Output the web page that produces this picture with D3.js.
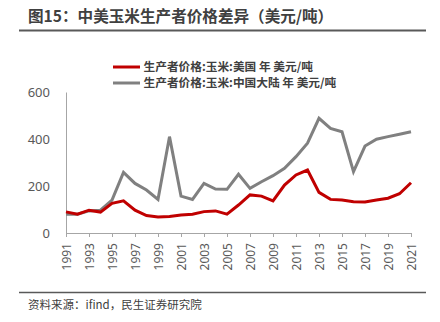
<!DOCTYPE html>
<html><head><meta charset="utf-8">
<script src="https://cdn.jsdelivr.net/npm/d3@7"></script>
<style>
body{margin:0;background:#fff;}
svg{display:block;font-family:"Noto Sans CJK SC","Noto Sans",sans-serif;}
</style></head>
<body><svg id="c" width="440" height="322"></svg>
<script>
const years = d3.range(1991, 2022);
const usPrice = [90,80,97,89,126,137,97,74,68,70,77,80,91,94,80,119,162,157,137,204,247,268,173,143,140,133,132,140,148,167,214];
const cnPrice = [80,80,94,97,140,258,211,183,143,410,157,143,211,187,186,250,190,218,244,275,325,382,488,445,431,261,370,399,410,420,431];
const yTicks = [0,200,400,600];
const xTickYears = d3.range(1991, 2022, 2);
const seriesNames = ["生产者价格:玉米:美国 年 美元/吨","生产者价格:玉米:中国大陆 年 美元/吨"];
const seriesColors = ["#c00000","#808080"];
const titleText = "图15：中美玉米生产者价格差异（美元/吨）";
const sourceText = "资料来源：ifind，民生证券研究院";

const svg = d3.select("#c");
const x = d3.scaleLinear().domain([1991,2021]).range([66,411]);
const y = d3.scaleLinear().domain([0,600]).range([233,92]);

// title
svg.append("text").attr("x",28).attr("y",22).attr("font-size",15.6).attr("font-weight","bold")
  .attr("fill","#404040").text(titleText);
svg.append("line").attr("x1",19).attr("x2",426).attr("y1",30.5).attr("y2",30.5)
  .attr("stroke","#595959").attr("stroke-width",2);

// y axis
const yAxis = svg.append("g").attr("transform","translate(66,0)")
  .call(d3.axisLeft(y).tickValues(yTicks).tickSize(0).tickPadding(16).tickFormat(d3.format("d")));
yAxis.select(".domain").attr("stroke","#a6a6a6").attr("stroke-width",1);
yAxis.selectAll("text").attr("font-size",13).attr("fill","#595959").attr("font-family","Noto Sans, sans-serif");

// x axis
const xAxis = svg.append("g").attr("transform","translate(0,233)")
  .call(d3.axisBottom(x).tickValues(xTickYears).tickSize(4).tickSizeOuter(0).tickFormat(d3.format("d")));
xAxis.select(".domain").attr("stroke","#a6a6a6").attr("stroke-width",1.2);
xAxis.selectAll(".tick line").attr("stroke","#a6a6a6");
xAxis.selectAll("text").attr("font-size",12).attr("fill","#595959").attr("font-family","Noto Sans, sans-serif")
  .attr("transform","rotate(-90)").attr("text-anchor","end").attr("x",-10).attr("y",0).attr("dy","0.35em");

// lines
const line = d3.line().x((d,i)=>x(years[i])).y(d=>y(d));
[usPrice, cnPrice].slice().reverse().forEach((s,k)=>{
  const idx = 1-k;
  svg.append("path").datum(s).attr("d",line).attr("fill","none")
    .attr("stroke",seriesColors[idx]).attr("stroke-width",3).attr("stroke-linejoin","miter");
});

// legend
seriesNames.forEach((n,i)=>{
  const ly = 67 + i*16;
  svg.append("line").attr("x1",113).attr("x2",140).attr("y1",ly).attr("y2",ly)
    .attr("stroke",seriesColors[i]).attr("stroke-width",3);
  svg.append("text").attr("x",143.5).attr("y",ly+3.5).attr("font-size",11.7).attr("font-weight","bold")
    .attr("fill","#404040").text(n);
});

// source
svg.append("line").attr("x1",19).attr("x2",426).attr("y1",292.5).attr("y2",292.5)
  .attr("stroke","#595959").attr("stroke-width",1.5);
svg.append("text").attr("x",28).attr("y",309).attr("font-size",11.5).attr("fill","#404040").text(sourceText);
</script></body></html>
